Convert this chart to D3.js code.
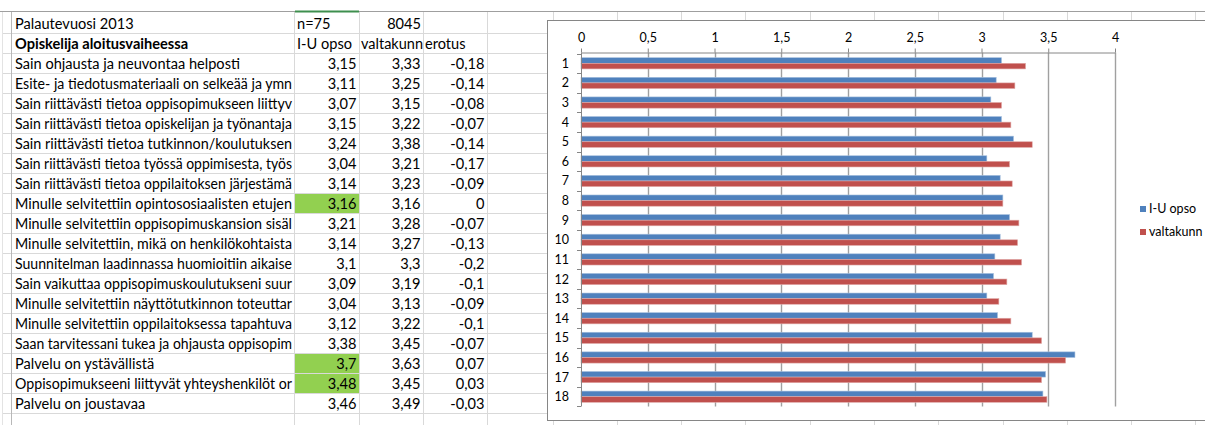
<!DOCTYPE html>
<html>
<head>
<meta charset="utf-8">
<script src="https://cdn.jsdelivr.net/npm/d3@7"></script>
<style>
html, body { margin: 0; padding: 0; background: #fff; overflow: hidden; }
svg { display: block; }
</style>
</head>
<body>
<div id="chart"></div>
<script>
// Table rows / chart categories (as far as the sheet shows them)
var questions = [
    "Sain ohjausta ja neuvontaa helposti",
    "Esite- ja tiedotusmateriaali on selkeää ja ymn",
    "Sain riittävästi tietoa oppisopimukseen liittyv",
    "Sain riittävästi tietoa opiskelijan ja työnantaja",
    "Sain riittävästi tietoa tutkinnon/koulutuksen",
    "Sain riittävästi tietoa työssä oppimisesta, työs",
    "Sain riittävästi tietoa oppilaitoksen järjestämä",
    "Minulle selvitettiin opintososiaalisten etujen",
    "Minulle selvitettiin oppisopimuskansion sisäl",
    "Minulle selvitettiin, mikä on henkilökohtaista",
    "Suunnitelman laadinnassa huomioitiin aikaise",
    "Sain vaikuttaa oppisopimuskoulutukseni suur",
    "Minulle selvitettiin näyttötutkinnon toteuttar",
    "Minulle selvitettiin oppilaitoksessa tapahtuva",
    "Saan tarvitessani tukea ja ohjausta oppisopim",
    "Palvelu on ystävällistä",
    "Oppisopimukseeni liittyvät yhteyshenkilöt or",
    "Palvelu on joustavaa"
];

// Series values
var iuOpso = [3.15, 3.11, 3.07, 3.15, 3.24, 3.04, 3.14, 3.16, 3.21, 3.14, 3.1, 3.09, 3.04, 3.12, 3.38, 3.7, 3.48, 3.46];
var valtakunta = [3.33, 3.25, 3.15, 3.22, 3.38, 3.21, 3.23, 3.16, 3.28, 3.27, 3.3, 3.19, 3.13, 3.22, 3.45, 3.63, 3.45, 3.49];
var erotus = [-0.18, -0.14, -0.08, -0.07, -0.14, -0.17, -0.09, 0, -0.07, -0.13, -0.2, -0.1, -0.09, -0.1, -0.07, 0.07, 0.03, -0.03];

var categories = d3.range(1, 19);
var seriesNames = ["I-U opso", "valtakunn"];
var xTicks = [0, 0.5, 1, 1.5, 2, 2.5, 3, 3.5, 4];

// Header texts of the sheet
var titleText = "Palautevuosi 2013";
var headingText = "Opiskelija aloitusvaiheessa";
var respondents = "n=75";
var nationalCount = "8045";
var erotusHeader = "erotus";

function init() {
    var w = 1205;
    var h = 425;
    var font = "Lato, 'Open Sans', sans-serif";
    var colors = ["#4f81bd", "#c0504d"];

    // finnish decimal comma
    var fi = function(v) { return String(v).replace(".", ","); };

    // squeeze a cell text so it stays inside its cell
    function fitText(sel, maxW) {
        if (sel.node().getComputedTextLength() > maxW) {
            sel.attr("textLength", maxW).attr("lengthAdjust", "spacingAndGlyphs");
        }
        return sel;
    }

    var svg = d3.select("#chart")
                .append("svg")
                .attr("width", w)
                .attr("height", h)
                .style("font-family", font);

    // ---------- spreadsheet grid ----------
    var rowTop = 13, rowH = 20;
    var grid = svg.append("g").attr("stroke", "#d9d9d9").attr("stroke-width", 1);

    for (var k = 1; k <= 21; k++) {
        grid.append("line")
            .attr("x1", 3).attr("x2", w)
            .attr("y1", rowTop + rowH * k + 0.5).attr("y2", rowTop + rowH * k + 0.5);
    }
    var colLines = [294.5, 359.5, 423.5, 487.5];
    for (var cx = 552.5; cx < w; cx += 64.3) colLines.push(Math.round(cx) + 0.5);
    colLines.forEach(function(cx) {
        grid.append("line").attr("x1", cx).attr("x2", cx).attr("y1", 11).attr("y2", h);
    });
    svg.append("line").attr("x1", 2.5).attr("x2", 2.5).attr("y1", 11).attr("y2", h).attr("stroke", "#e3e3e3");
    svg.append("line").attr("x1", 11.5).attr("x2", 11.5).attr("y1", 11).attr("y2", h).attr("stroke", "#b8b8b8");
    svg.append("line").attr("x1", 0).attr("x2", w).attr("y1", 11.5).attr("y2", 11.5).attr("stroke", "#9f9f9f");
    svg.append("line").attr("x1", 295).attr("x2", 359).attr("y1", 11.5).attr("y2", 11.5)
        .attr("stroke", "#3e8f4e").attr("stroke-width", 2);

    // green highlight where I-U opso is at least the national level
    erotus.forEach(function(d, i) {
        if (d >= 0) {
            svg.append("rect")
                .attr("x", 295).attr("y", rowTop + rowH * (i + 2) + 1)
                .attr("width", 64).attr("height", rowH - 1)
                .attr("fill", "#92d050");
        }
    });

    var fs = "14.6px";
    var base = function(r) { return rowTop + rowH * r + 15.5; };
    var table = svg.append("g").attr("font-size", fs).attr("fill", "#000");

    table.append("text").attr("x", 15).attr("y", base(0)).text(titleText);
    table.append("text").attr("x", 297).attr("y", base(0)).text(respondents);
    table.append("text").attr("x", 421).attr("y", base(0)).attr("text-anchor", "end").text(nationalCount);
    table.append("text").attr("x", 15).attr("y", base(1)).attr("font-weight", "bold").text(headingText);
    table.append("text").attr("x", 297).attr("y", base(1)).text(seriesNames[0]);
    fitText(table.append("text").attr("x", 361).attr("y", base(1)).text(seriesNames[1]), 62);
    table.append("text").attr("x", 425).attr("y", base(1)).text(erotusHeader);

    questions.forEach(function(q, i) {
        var r = i + 2;
        fitText(table.append("text").attr("x", 15).attr("y", base(r)).text(q), 277);
        table.append("text").attr("x", 356.5).attr("y", base(r)).attr("text-anchor", "end").text(fi(iuOpso[i]));
        table.append("text").attr("x", 420.5).attr("y", base(r)).attr("text-anchor", "end").text(fi(valtakunta[i]));
        table.append("text").attr("x", 484.5).attr("y", base(r)).attr("text-anchor", "end").text(fi(erotus[i]));
    });

    // ---------- chart ----------
    svg.append("rect")
        .attr("x", 547.5).attr("y", 20.5)
        .attr("width", 720).attr("height", 400)
        .attr("fill", "#fff").attr("stroke", "#868686");

    var x = d3.scaleLinear().domain([0, 4]).range([581, 1115]);
    var y = d3.scaleBand().domain(categories).range([53.5, 406.5]).padding(0);
    var ySub = d3.scaleBand().domain([0, 1]).range([0, y.bandwidth()]).paddingInner(0).paddingOuter(0.75);
    var axisY = 52.5, plotBottom = 406.5;

    // vertical gridlines
    svg.append("g").selectAll("line")
        .data(xTicks.slice(1))
        .enter().append("line")
        .attr("x1", function(d) { return Math.round(x(d)) + 0.5; })
        .attr("x2", function(d) { return Math.round(x(d)) + 0.5; })
        .attr("y1", axisY).attr("y2", plotBottom)
        .attr("stroke", "#a0a0a0").attr("stroke-width", 1.4);

    // bars
    var series = [iuOpso, valtakunta];
    series.forEach(function(vals, s) {
        svg.append("g").selectAll("rect")
            .data(vals)
            .enter().append("rect")
            .attr("x", x(0))
            .attr("y", function(d, i) { return y(categories[i]) + ySub(s); })
            .attr("width", function(d) { return x(d) - x(0); })
            .attr("height", ySub.bandwidth())
            .attr("fill", colors[s])
            .attr("stroke", s === 0 ? "#a7c0de" : "#dfa8a6")
            .attr("stroke-width", 0.6);
    });

    // top value axis
    var xAxis = svg.append("g")
        .attr("transform", "translate(0," + axisY + ")")
        .call(d3.axisTop(x).tickValues(xTicks).tickFormat(fi).tickSizeInner(4).tickSizeOuter(0).tickPadding(7));
    xAxis.select(".domain").attr("stroke", "#868686");
    xAxis.selectAll(".tick line").attr("stroke", "#868686");
    xAxis.selectAll("text").attr("font-family", font).attr("font-size", "12.5px").attr("fill", "#000");

    // left category axis
    var cat = svg.append("g");
    cat.append("line")
        .attr("x1", x(0) + 0.5).attr("x2", x(0) + 0.5)
        .attr("y1", axisY).attr("y2", plotBottom)
        .attr("stroke", "#868686");
    cat.selectAll("line.tk")
        .data(categories.concat([null]))
        .enter().append("line")
        .attr("class", "tk")
        .attr("x1", x(0) - 4).attr("x2", x(0))
        .attr("y1", function(d) { return d === null ? plotBottom : Math.round(y(d)) + 0.5; })
        .attr("y2", function(d) { return d === null ? plotBottom : Math.round(y(d)) + 0.5; })
        .attr("stroke", "#868686");
    cat.selectAll("text")
        .data(categories)
        .enter().append("text")
        .attr("x", 569)
        .attr("y", function(d) { return y(d) + y.bandwidth() / 2; })
        .attr("dy", "0.36em")
        .attr("text-anchor", "end")
        .attr("font-size", "12.5px")
        .text(function(d) { return d; });

    // legend
    var legend = svg.append("g").attr("transform", "translate(1140,206)");
    seriesNames.forEach(function(name, s) {
        legend.append("rect")
            .attr("x", 0).attr("y", s * 23)
            .attr("width", 6).attr("height", 6)
            .attr("fill", colors[s]);
        legend.append("text")
            .attr("x", 9).attr("y", s * 23 + 7)
            .attr("font-size", "12.5px")
            .text(name);
    });
}

window.onload = init;
</script>
</body>
</html>
